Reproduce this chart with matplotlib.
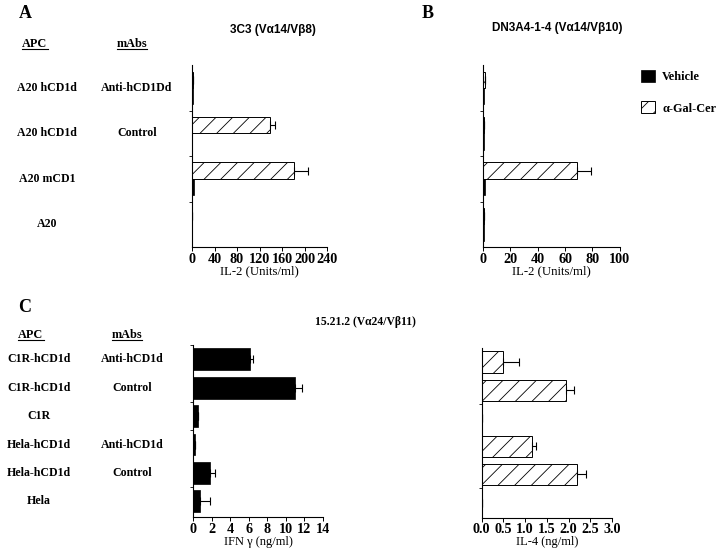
import matplotlib
matplotlib.use("Agg")
import matplotlib.pyplot as plt
import matplotlib.transforms as mtransforms
from matplotlib.lines import Line2D
import numpy as np

plt.rcParams['font.family'] = ['Liberation Serif', 'DejaVu Serif']
plt.rcParams['font.weight'] = 'bold'
plt.rcParams['hatch.linewidth'] = 0.6

# panel A / B data (IL-2, Units/ml)
apc_ab = ["A20 hCD1d", "A20 hCD1d", "A20 mCD1", "A20"]
mabs_ab = ["Anti-hCD1Dd", "Control", "", ""]
a_gal = [1, 139, 181, 0]
a_gal_err = [0, 9, 25, 0]
a_veh = [1, 0, 4, 0]
b_gal = [1.5, 0.5, 69, 0.5]
b_gal_err = [0, 0, 10, 0]
b_veh = [0.5, 1, 1.5, 1]

# panel C data
apc_c = ["C1R-hCD1d", "C1R-hCD1d", "C1R", "Hela-hCD1d", "Hela-hCD1d", "Hela"]
mabs_c = ["Anti-hCD1d", "Control", "", "Anti-hCD1d", "Control", ""]
ifn = [6.1, 11.0, 0.5, 0.25, 1.8, 0.75]
ifn_err = [0.4, 0.7, 0, 0, 0.6, 1.05]
il4 = [0.49, 1.93, 0, 1.16, 2.2, 0]
il4_err = [0.36, 0.2, 0, 0.09, 0.2, 0]

fig = plt.figure(figsize=(7.2, 5.51), dpi=100)

def px(x, y):
    return x / 720, 1 - y / 551

def style(ax):
    for s in ["top", "right"]:
        ax.spines[s].set_visible(False)
    for s in ["left", "bottom"]:
        ax.spines[s].set_linewidth(0.8)
    ax.tick_params(axis="x", length=3, width=0.7, labelsize=10.2, pad=1)
    ax.tick_params(axis="y", which="both", length=2, width=0.6, labelleft=False)

axA = fig.add_axes([0.2667, 0.5517, 0.1875, 0.330])
axB = fig.add_axes([0.6708, 0.5517, 0.190, 0.330])
axC = fig.add_axes([0.268, 0.0617, 0.1805, 0.312])
axD = fig.add_axes([0.669, 0.060, 0.181, 0.308])

ypos = np.arange(len(apc_ab))
h = 0.36
for ax, gal, gerr, veh, xmax, step in [(axA, a_gal, a_gal_err, a_veh, 240, 40),
                                       (axB, b_gal, b_gal_err, b_veh, 100, 20)]:
    ax.barh(ypos - 0.18, gal, height=h, color="white", edgecolor="black",
            hatch="//", linewidth=0.7, label="α-Gal-Cer")
    ax.errorbar(gal, ypos - 0.18, xerr=[np.zeros(len(gal)), gerr], fmt="none",
                ecolor="black", elinewidth=0.8, capsize=3, capthick=0.8)
    ax.barh(ypos + 0.18, veh, height=h, color="black", edgecolor="black",
            linewidth=0.5, label="Vehicle")
    ax.set_xlim(0, xmax)
    ax.set_xticks(np.arange(0, xmax + 1, step))
    ax.set_ylim(3.5, -0.5)
    ax.set_yticks([0.5, 1.5, 2.5])
    ax.set_xlabel("IL-2 (Units/ml)", fontsize=9.2, labelpad=0)
    style(ax)

ypc = np.arange(len(apc_c))
hc = 0.77
axC.barh(ypc, ifn, height=hc, color="black", edgecolor="black", linewidth=0.5)
axC.errorbar(ifn, ypc, xerr=[np.zeros(len(ifn)), ifn_err], fmt="none",
             ecolor="black", elinewidth=0.8, capsize=3, capthick=0.8)
axC.set_xlim(0, 14)
axC.set_xticks(np.arange(0, 15, 2))
axC.set_ylim(5.55, -0.5)
axC.set_yticks([-0.5, 1.5, 2.5, 4.5])
axC.set_xlabel("IFN γ (ng/ml)", fontsize=9, labelpad=0)
style(axC)

axD.barh(ypc, il4, height=hc, color="white", edgecolor="black", hatch="//",
         linewidth=0.7)
axD.errorbar(il4, ypc, xerr=[np.zeros(len(il4)), il4_err], fmt="none",
             ecolor="black", elinewidth=0.8, capsize=3, capthick=0.8)
axD.set_xlim(0, 3.0)
axD.set_xticks(np.arange(0, 3.01, 0.5))
axD.set_xticklabels([f"{v:.1f}" for v in np.arange(0, 3.01, 0.5)])
axD.set_ylim(5.55, -0.5)
axD.set_yticks([1.5, 4.5])
axD.set_xlabel("IL-4 (ng/ml)", fontsize=9, labelpad=0)
style(axD)

# row labels
trA = mtransforms.blended_transform_factory(fig.transFigure, axA.transData)
for i, (a, m) in enumerate(zip(apc_ab, mabs_ab)):
    fig.text(47 / 720, i, a, transform=trA, ha="center", va="center", fontsize=8.6)
    if m:
        fig.text(137 / 720, i, m, transform=trA, ha="center", va="center", fontsize=8.6)
trC = mtransforms.blended_transform_factory(fig.transFigure, axC.transData)
for i, (a, m) in enumerate(zip(apc_c, mabs_c)):
    fig.text(39 / 720, i, a, transform=trC, ha="center", va="center", fontsize=8.6)
    if m:
        fig.text(132 / 720, i, m, transform=trC, ha="center", va="center", fontsize=8.6)

# headers (underlined)
heads = []
for x, y, s in [(35, 44, "APC"), (132, 44, "mAbs"), (31, 335, "APC"), (127, 335, "mAbs")]:
    heads.append(fig.text(*px(x, y), s, ha="center", va="center", fontsize=8.8))

# panel letters and titles
fig.text(*px(25, 13), "A", ha="center", va="center", fontsize=13)
fig.text(*px(428, 13), "B", ha="center", va="center", fontsize=13)
fig.text(*px(25, 307), "C", ha="center", va="center", fontsize=13)
fig.text(*px(273, 30), "3C3 (Vα14/Vβ8)", ha="center", va="center", fontsize=8.5,
         family=["Liberation Sans", "DejaVu Sans"])
fig.text(*px(557, 28), "DN3A4-1-4 (Vα14/Vβ10)", ha="center", va="center", fontsize=8.5,
         family=["Liberation Sans", "DejaVu Sans"])
fig.text(*px(365, 322), "15.21.2 (Vα24/Vβ11)", ha="center", va="center", fontsize=8.4)

handles, labels = axA.get_legend_handles_labels()
fig.legend(handles[::-1], labels[::-1], loc="upper left", bbox_to_anchor=px(631, 60),
           frameon=False, handlelength=1.15, handleheight=1.15, labelspacing=1.5,
           handletextpad=0.6, fontsize=8.8, borderpad=0.3)

fig.canvas.draw()
r = fig.canvas.get_renderer()
inv = fig.transFigure.inverted()
for t in heads:
    bb = t.get_window_extent(r)
    (x0, y0), (x1, _) = inv.transform([(bb.x0, bb.y0), (bb.x1, bb.y1)])
    fig.add_artist(Line2D([x0, x1], [y0 + 0.002, y0 + 0.002], color="black",
                          lw=0.8, transform=fig.transFigure))

fig.savefig("out.png", dpi=100)
